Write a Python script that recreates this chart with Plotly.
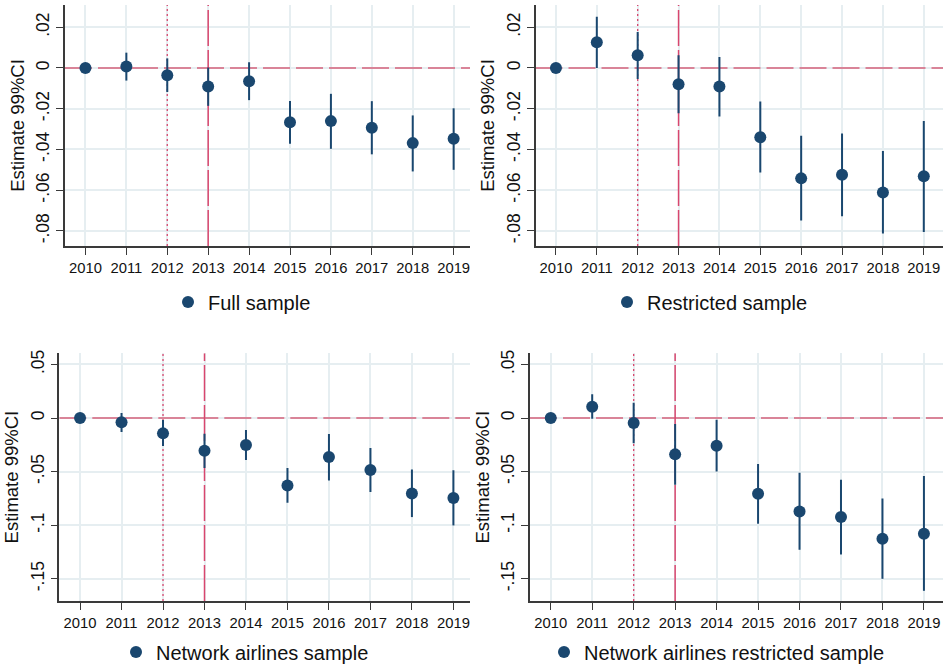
import plotly.graph_objects as go

years = [2010, 2011, 2012, 2013, 2014, 2015, 2016, 2017, 2018, 2019]

full_est = [0.0, 0.0007, -0.0036, -0.0091, -0.0065, -0.0266, -0.0261, -0.0294, -0.0369, -0.0348]
full_hi = [0.0, 0.0075, 0.0047, 0.0002, 0.0028, -0.0162, -0.0127, -0.0163, -0.0233, -0.0198]
full_lo = [0.0, -0.0062, -0.0118, -0.0186, -0.0158, -0.0372, -0.0397, -0.0424, -0.0508, -0.0500]

restr_est = [0.0, 0.0126, 0.0062, -0.0080, -0.0091, -0.0340, -0.0542, -0.0524, -0.0611, -0.0532]
restr_hi = [0.0, 0.0251, 0.0176, 0.0062, 0.0054, -0.0165, -0.0333, -0.0322, -0.0408, -0.0261]
restr_lo = [0.0, 0.0000, -0.0054, -0.0222, -0.0238, -0.0513, -0.0749, -0.0728, -0.0813, -0.0805]

net_est = [0.0, -0.0040, -0.0143, -0.0305, -0.0252, -0.0629, -0.0364, -0.0485, -0.0703, -0.0747]
net_hi = [0.0, 0.0047, -0.0019, -0.0146, -0.0112, -0.0467, -0.0149, -0.0280, -0.0479, -0.0488]
net_lo = [0.0, -0.0131, -0.0261, -0.0467, -0.0392, -0.0790, -0.0582, -0.0691, -0.0924, -0.1002]

netr_est = [0.0, 0.0106, -0.0047, -0.0339, -0.0258, -0.0706, -0.0871, -0.0924, -0.1126, -0.1080]
netr_hi = [0.0, 0.0221, 0.0143, -0.0056, -0.0016, -0.0429, -0.0510, -0.0576, -0.0750, -0.0541]
netr_lo = [0.0, -0.0006, -0.0236, -0.0622, -0.0498, -0.0986, -0.1229, -0.1273, -0.1500, -0.1612]

names = ["Full sample", "Restricted sample", "Network airlines sample",
         "Network airlines restricted sample"]

top_ticks = [0.02, 0.0, -0.02, -0.04, -0.06, -0.08]
top_text = [".02", "0", "-.02", "-.04", "-.06", "-.08"]
bot_ticks = [0.05, 0.0, -0.05, -0.1, -0.15]
bot_text = [".05", "0", "-.05", "-.1", "-.15"]

ref_zero = 0.0
ref_announce = 2012
ref_treat = 2013

W, H = 943, 666
NAVY = "#1a476f"
GRID = "#e6eef1"
AXC = "#3a3a3a"
REFH = "#d98498"
REFV = "#d9466e"
FONT = "Liberation Sans, Arial, sans-serif"

panels = [
    dict(est=full_est, hi=full_hi, lo=full_lo, name=names[0],
         xpx=(65, 470), ypx=(5, 246), xr=[2009.5, 2019.4], yr=[-0.0874, 0.0309],
         ticks=top_ticks, text=top_text, leg=(168, 302)),
    dict(est=restr_est, hi=restr_hi, lo=restr_lo, name=names[1],
         xpx=(535.5, 943), ypx=(5, 246), xr=[2009.5, 2019.47], yr=[-0.0874, 0.0309],
         ticks=top_ticks, text=top_text, leg=(607, 302)),
    dict(est=net_est, hi=net_hi, lo=net_lo, name=names[2],
         xpx=(59.3, 470), ypx=(353.3, 601), xr=[2009.5, 2019.4], yr=[-0.1707, 0.0604],
         ticks=bot_ticks, text=bot_text, leg=(116, 652)),
    dict(est=netr_est, hi=netr_hi, lo=netr_lo, name=names[3],
         xpx=(530, 943), ypx=(353.3, 601), xr=[2009.5, 2019.46], yr=[-0.1707, 0.0604],
         ticks=bot_ticks, text=bot_text, leg=(544, 652)),
]

fig = go.Figure()
layout = {}
for i, p in enumerate(panels, start=1):
    xa = "x" if i == 1 else f"x{i}"
    ya = "y" if i == 1 else f"y{i}"
    lg = "legend" if i == 1 else f"legend{i}"
    common = dict(xaxis=xa, yaxis=ya, showlegend=False, hoverinfo="skip", mode="lines")
    # reference lines (drawn beneath the estimates)
    fig.add_trace(go.Scatter(x=[p["xr"][0], p["xr"][1]], y=[ref_zero, ref_zero],
                             line=dict(color=REFH, width=2, dash="27px,6px"), **common))
    fig.add_trace(go.Scatter(x=[ref_announce, ref_announce], y=[p["yr"][0], p["yr"][1]],
                             line=dict(color=REFV, width=1.3, dash="2px,3px"), **common))
    fig.add_trace(go.Scatter(x=[ref_treat, ref_treat], y=[p["yr"][0], p["yr"][1]],
                             line=dict(color=REFV, width=1.5, dash="36px,4px"), **common))
    ep = [h - e for h, e in zip(p["hi"], p["est"])]
    em = [e - l for e, l in zip(p["est"], p["lo"])]
    fig.add_trace(go.Scatter(
        x=years, y=p["est"], mode="markers", name=p["name"],
        marker=dict(color=NAVY, size=12),
        error_y=dict(type="data", array=ep, arrayminus=em, color=NAVY,
                     thickness=2, width=0),
        xaxis=xa, yaxis=ya, legend=lg, showlegend=True,
    ))
    xk = "xaxis" if i == 1 else f"xaxis{i}"
    yk = "yaxis" if i == 1 else f"yaxis{i}"
    layout[xk] = dict(
        domain=[p["xpx"][0] / W, p["xpx"][1] / W], range=p["xr"], anchor=ya,
        tickvals=years, ticktext=[str(y) for y in years],
        showgrid=True, gridcolor=GRID, gridwidth=1.5, zeroline=False,
        showline=True, linecolor=AXC, linewidth=1.5,
        ticks="outside", ticklen=7, tickcolor=AXC, tickwidth=1.3,
        tickfont=dict(family=FONT, size=14.8, color="#111"),
    )
    layout[yk] = dict(
        domain=[1 - p["ypx"][1] / H, 1 - p["ypx"][0] / H], range=p["yr"], anchor=xa,
        tickvals=p["ticks"], ticktext=p["text"], tickangle=-90,
        showgrid=True, gridcolor=GRID, gridwidth=1.5, zeroline=False,
        showline=True, linecolor=AXC, linewidth=1.5,
        ticks="outside", ticklen=7, tickcolor=AXC, tickwidth=1.3,
        tickfont=dict(family=FONT, size=17.5, color="#111"),
        title=dict(text="Estimate 99%CI", standoff=4,
                   font=dict(family=FONT, size=18.5, color="#111")),
    )
    layout[lg] = dict(
        x=p["leg"][0] / W, y=1 - p["leg"][1] / H, xanchor="left", yanchor="middle",
        orientation="h", bgcolor="rgba(0,0,0,0)",
        font=dict(family=FONT, size=20, color="#111"),
    )

fig.update_layout(
    width=W, height=H, margin=dict(l=0, r=0, t=0, b=0, autoexpand=False),
    paper_bgcolor="white", plot_bgcolor="white",
    showlegend=True,
    **layout,
)
fig.write_html("out.html")
